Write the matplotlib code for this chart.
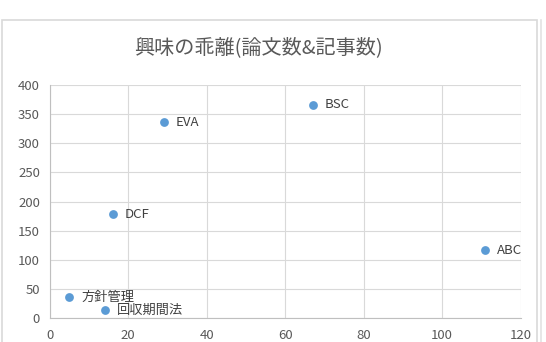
import matplotlib
matplotlib.use("Agg")
import matplotlib.pyplot as plt
from matplotlib.patches import Rectangle

plt.rcParams["font.family"] = ["Noto Sans CJK JP", "DejaVu Sans"]

# Data
names = ["EVA", "DCF", "方針管理", "回収期間法", "BSC", "ABC"]
x_vals = [29, 16, 5, 14, 67, 111]
y_vals = [336, 178, 36, 14, 366, 117]

x_ticks = [0, 20, 40, 60, 80, 100, 120]
y_ticks = [0, 50, 100, 150, 200, 250, 300, 350, 400]

W, H = 546, 342
fig = plt.figure(figsize=(W / 100, H / 100), dpi=100)

# outer chart border (bottom runs off the image)
fig.add_artist(Rectangle((2 / W, -0.1), (537 - 2) / W, 1.1 - 20 / H,
                         transform=fig.transFigure, fill=False,
                         edgecolor="#d9d9d9", linewidth=1.2))
fig.add_artist(plt.Line2D([541 / W, 541 / W], [0, 1 - 20 / H],
                          transform=fig.transFigure, color="#e3e3e3", linewidth=1.2))

ax = fig.add_axes([49.7 / W, 1 - 318.3 / H, (520.7 - 49.7) / W, (318.3 - 85) / H])

ax.scatter(x_vals, y_vals, s=40, color="#5B9BD5", zorder=3, linewidths=0)
for n, xv, yv in zip(names, x_vals, y_vals):
    ax.annotate(n, (xv, yv), xytext=(8.5, 0), textcoords="offset points",
                ha="left", va="center", fontsize=9.5, color="#404040",
                annotation_clip=False, clip_on=True)

ax.set_xlim(0, 120)
ax.set_ylim(0, 400)
ax.set_xticks(x_ticks)
ax.set_yticks(y_ticks)
ax.grid(True, color="#d9d9d9", linewidth=0.8)
ax.set_axisbelow(True)
ax.tick_params(length=0, labelsize=9.5, labelcolor="#595959", pad=7)
ax.tick_params(axis="x", pad=8)
for side in ["top", "right"]:
    ax.spines[side].set_visible(False)
for side in ["left", "bottom"]:
    ax.spines[side].set_color("#bfbfbf")
    ax.spines[side].set_linewidth(0.8)

fig.text(258 / W, 1 - 48 / H, "興味の乖離(論文数&記事数)", ha="center", va="center",
         fontsize=14.5, color="#595959")

fig.savefig("out.png", dpi=100)
